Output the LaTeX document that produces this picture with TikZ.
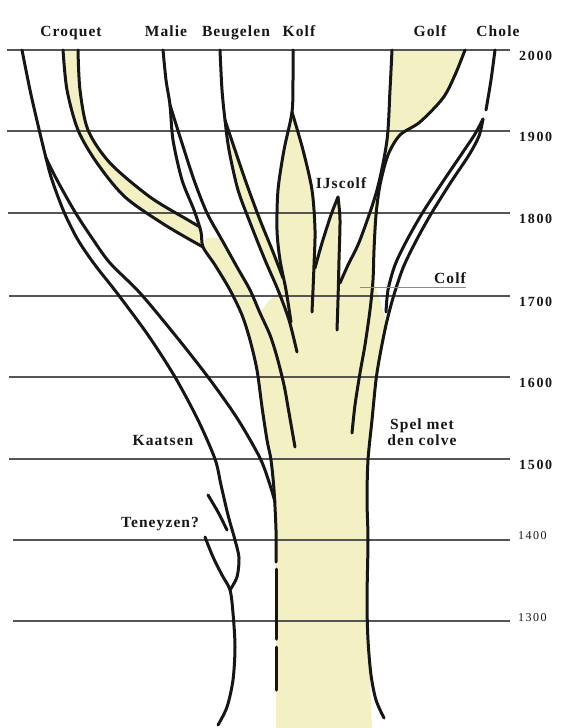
\documentclass[tikz,border=0pt]{standalone}
\usepackage{fontspec}
\setmainfont{Liberation Serif}
\newfontfamily\gamefont[LetterSpace=7]{Liberation Serif}
\newfontfamily\yearfont[LetterSpace=12]{Liberation Serif}
\usetikzlibrary{positioning}

\definecolor{leaf}{RGB}{243,240,196}
\definecolor{rule}{RGB}{85,85,85}
\definecolor{ink}{RGB}{22,22,22}
\definecolor{colfline}{RGB}{150,145,70}

\begin{document}
\begin{tikzpicture}[x=1pt, y=-1pt,
  era/.style={draw=rule, line width=1.3pt},
  branch/.style={draw=ink, line width=3pt, line cap=round, line join=round},
  leader/.style={draw=colfline, line width=1pt},
  game/.style={font=\gamefont\bfseries\fontsize{15.5}{18}\selectfont, text=ink, inner sep=0pt, anchor=base},
  year/.style={font=\yearfont\bfseries\fontsize{14}{16}\selectfont, text=ink, inner sep=0pt},
  oldyear/.style={year, font=\yearfont\fontsize{12}{14}\selectfont}
]

\fill[white] (0,0) rectangle (560,728);
\useasboundingbox (0,0) rectangle (560,728);

% Gele vlakken
\fill[leaf] plot[smooth] coordinates {(63,50) (67,90) (78,130) (97,163) (125,197) (165,225) (203,247)}
  -- plot[smooth] coordinates {(200,227) (188,220) (150,197) (110,163) (88,130) (80,90) (78,50)} -- cycle;
\fill[leaf] (276,728) -- (276,540) -- (274,490) -- (271,460) -- (267,440) -- (262,407) -- (257,370)
  -- (250,340) -- (242,315) -- (230,290) -- (215,265) -- (203,247) -- (206,238) -- (220,238)
  -- (237,267) -- (250,290) -- (260,312) -- (268,302) -- (279,292) -- (265,260) -- (251,225)
  -- (238,190) -- (229,150) -- (225,120) -- (235,150) -- (247,185) -- (260,220) -- (273,252)
  -- (283,278) -- (280,260) -- (277,230) -- (278,190) -- (284,150) -- (292,112) -- (303,150)
  -- (312,190) -- (315,230) -- (315,268) -- (322,243) -- (331,215) -- (338,197) -- (340,220)
  -- (340,250) -- (341,280) -- (348,265) -- (360,240) -- (377,190) -- (387,140) -- (390,90)
  -- (392,50) -- (465,50) -- (455,75) -- (443,98) -- (420,122) -- (400,135) -- (388,155)
  -- (380,185) -- (376,215) -- (374,250) -- (373,280) -- (380,300) -- (386,322) -- (380,355)
  -- (376,380) -- (372,420) -- (368,460) -- (367,500) -- (368,540) -- (367,600) -- (368,640)
  -- (370,680) -- (372,728) -- cycle;

% Eeuwlijnen
\foreach \yr/\yy/\xs in {2000/50/7, 1900/131/7, 1800/213/8, 1700/296/9, 1600/377/9, 1500/459/9, 1400/540/13, 1300/621/13} {
  \coordinate (l\yr) at (\xs,\yy);
  \coordinate (r\yr) at (510,\yy);
  \draw[era] (l\yr) -- (r\yr);
}
\foreach \yr in {2000,1900,1800,1700,1600,1500}
  \node[year, right=9pt of r\yr, yshift=-6pt] (t\yr) {\yr};
\node[oldyear, right=8pt of r1400, yshift=4pt] (t1400) {1400};
\node[oldyear, right=8pt of r1300, yshift=3pt] (t1300) {1300};

% Croquet en Kaatsen
\draw[branch] plot[smooth] coordinates {(22,50) (30,90) (38,125) (46,158) (52,180) (64,212) (78,240)
  (95,265) (117,293) (148,335) (175,377) (198,420) (215,459) (221,485) (228,515) (235,540)
  (239,558) (237,577) (230,590)};
\draw[branch] plot[smooth] coordinates {(46,158) (57,180) (75,212) (92,238) (110,263) (140,293)
  (175,335) (208,377) (237,418) (260,458) (270,485) (275,502)};
\draw[branch] plot[smooth] coordinates {(208,495) (218,512) (227,530)};
\draw[branch] plot[smooth] coordinates {(205,537) (213,557) (222,575) (230,590) (233,613) (235,647)
  (233,680) (227,707) (218,725)};

% Tak naar Malie
\draw[branch] plot[smooth] coordinates {(63,50) (67,90) (78,130) (97,163) (125,197) (165,225) (203,247)};
\draw[branch] plot[smooth] coordinates {(78,50) (80,90) (88,130) (110,163) (150,197) (188,220) (200,227)};

% Malie en stam
\draw[branch] plot[smooth] coordinates {(163,50) (166,80) (170,105) (173,140) (182,180) (194,210)
  (201,232) (203,247) (215,265) (230,290) (242,315) (250,340) (257,370) (262,407) (267,440)
  (271,460) (274,490) (276,530) (276,562)};
\draw[branch] (276,569) -- (276,639);
\draw[branch] (276,647) -- (276,690);
\draw[branch] plot[smooth] coordinates {(170,105) (181,140) (194,180) (207,213) (222,240) (237,267)
  (250,290) (260,313) (270,335) (277,357) (284,385) (288,407) (292,430) (295,447)};

% Beugelen
\draw[branch] plot[smooth] coordinates {(220,50) (222,90) (225,120) (229,150) (238,190) (251,225)
  (265,260) (278,290) (289,320) (297,352)};
\draw[branch] plot[smooth] coordinates {(225,120) (235,150) (247,185) (260,220) (273,252) (283,278)};

% Kolf en IJscolf
\draw[branch] plot[smooth] coordinates {(293,50) (293,80) (292,112) (284,150) (278,190) (277,230)
  (280,260) (286,290) (291,322)};
\draw[branch] plot[smooth] coordinates {(292,112) (303,150) (312,190) (315,230) (314,265) (313,290) (312,312)};
\draw[branch] plot[smooth] coordinates {(315,268) (322,243) (331,215) (338,197)};
\draw[branch] plot[smooth] coordinates {(338,197) (340,220) (339,260) (338,300) (337,330)};

% Golf
\draw[branch] plot[smooth] coordinates {(392,50) (390,90) (387,140) (377,190) (360,240) (348,265) (340,283)};
\draw[branch] plot[smooth] coordinates {(465,50) (455,75) (443,98) (420,122) (400,135) (388,155)
  (380,185) (376,215) (374,250) (373,280) (370,310) (365,345) (360,373) (355,405) (352,433)};

% Chole
\draw[branch] plot[smooth] coordinates {(495,50) (491,80) (486,110)};
\draw[branch] plot[smooth] coordinates {(483,119) (475,134) (463,152) (444,180) (423,212) (407,240)
  (395,265) (388,290) (386,312)};
\draw[branch] plot[smooth] coordinates {(483,119) (479,136) (469,155) (451,182) (431,214) (416,241)
  (403,268) (393,298) (386,325) (380,355) (376,380) (372,420) (368,460) (367,500) (368,540)
  (367,600) (368,640) (371,675) (376,700) (384,718)};

% Namen van de spelen
\node[game] (croquet) at (71,36) {Croquet};
\node[game] (malie) at (166,36) {Malie};
\node[game] (beugelen) at (236,36) {Beugelen};
\node[game] (kolf) at (299,36) {Kolf};
\node[game] (golf) at (430,36) {Golf};
\node[game] (chole) at (498,36) {Chole};
\node[game] (ijscolf) at (341,188) {IJscolf};
\node[game] (colf) at (450,283) {Colf};
\node[game] (kaatsen) at (163,445) {Kaatsen};
\node[game] (teneyzen) at (160,527) {Teneyzen?};
\node[game] (spel) at (422,429) {Spel met};
\node[game] (colve) at ([yshift=-16pt]spel.base) {den colve};

\coordinate (colfend) at (360,287);
\draw[leader] (colfend) -- (colfend -| colf.east);

\end{tikzpicture}
\end{document}
